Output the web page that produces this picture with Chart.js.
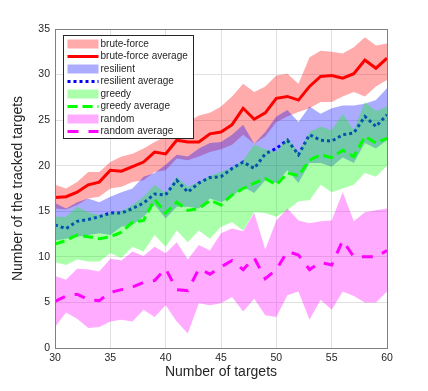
<!DOCTYPE html>
<html>
<head>
<meta charset="utf-8">
<title>Tracked targets</title>
<script src="https://cdn.jsdelivr.net/npm/chart.js@4.4.1/dist/chart.umd.min.js"></script>
<style>
  html, body { margin: 0; padding: 0; background: #fff; }
</style>
</head>
<body>
<canvas id="chart" width="428" height="391"></canvas>
<script>
// DATA
const targets = [30,31,32,33,34,35,36,37,38,39,40,41,42,43,44,45,46,47,48,49,50,51,52,53,54,55,56,57,58,59,60];

const bruteAvg   = [16.5,16.6,17.1,17.9,18.2,19.5,19.4,19.9,20.4,21.5,21.3,22.8,22.6,22.6,23.5,23.7,24.5,26.3,25.1,25.8,27.4,27.6,27.2,28.7,29.8,29.9,29.6,30.1,31.6,30.7,31.8];
const bruteUpper = [17.9,17.5,18.2,19.3,19.3,20.4,21.0,21.3,21.9,22.6,23.2,24.8,24.8,25.5,25.8,26.5,27.6,29.0,28.1,28.7,29.9,30.1,29.0,31.9,32.6,32.5,32.3,33.0,34.1,33.2,33.4];
const bruteLower = [15.3,15.2,15.7,16.4,16.6,17.5,17.7,18.2,18.4,19.3,19.5,20.8,20.6,21.0,21.5,21.8,22.3,23.4,22.4,23.2,24.8,25.4,25.9,26.3,27.0,27.0,27.6,28.1,27.6,28.7,29.4];

const resAvg   = [13.5,13.1,13.9,14.1,14.4,14.8,14.8,15.3,15.9,16.9,16.8,18.4,17.1,18.1,18.7,18.8,19.7,20.4,19.7,21.3,21.9,22.8,21.2,23.4,22.8,22.7,23.4,23.6,25.4,24.3,25.6];
const resUpper = [15.9,15.3,16.0,16.4,16.0,16.6,17.1,17.5,18.8,19.2,20.1,21.2,21.0,21.9,22.5,22.6,23.4,24.5,22.4,23.7,25.4,26.1,24.8,26.5,25.7,26.3,26.6,26.6,26.8,27.2,28.5];
const resLower = [11.8,12.0,12.2,12.4,12.6,12.4,13.3,13.5,14.4,15.7,14.2,15.5,15.5,15.3,16.4,16.0,16.6,17.7,17.0,18.4,18.1,19.5,18.1,20.3,20.3,19.9,20.9,20.3,22.5,21.9,22.8];

const greedyAvg   = [11.4,11.8,12.4,12.2,12.0,12.2,12.7,13.8,14.0,16.3,14.8,16.0,15.1,15.3,16.2,15.7,16.8,17.5,18.1,18.6,17.9,19.2,18.9,20.6,21.2,20.9,21.7,21.0,23.2,22.5,23.0];
const greedyUpper = [14.4,14.4,15.5,14.9,14.6,14.8,15.0,15.7,16.6,17.9,17.0,18.8,17.7,18.2,18.9,19.3,19.8,20.6,22.3,21.8,21.5,23.1,21.5,23.7,24.3,23.9,25.7,23.9,27.0,26.0,26.5];
const greedyLower = [9.4,9.1,9.7,9.5,9.5,10.4,9.9,11.1,10.6,12.4,11.1,12.9,11.6,12.9,12.0,13.3,13.8,12.9,14.9,14.8,14.4,15.1,16.1,16.2,17.9,17.1,17.5,17.9,19.2,18.8,20.0];

const randomAvg   = [5.1,5.7,5.9,5.3,5.2,6.1,6.4,6.7,7.2,7.4,8.7,6.4,6.3,8.7,8.1,8.9,9.6,8.6,9.9,7.6,8.6,10.6,10.2,8.6,9.4,9.1,11.8,10.0,10.0,10.0,10.7];
const randomUpper = [7.9,7.5,8.7,8.6,8.4,9.8,9.6,10.6,10.1,11.1,10.4,11.6,9.7,11.3,10.7,12.6,13.1,12.8,14.8,10.8,14.0,15.3,14.0,13.7,13.9,14.0,17.1,13.9,14.9,15.1,15.3];
const randomLower = [2.3,3.9,3.2,2.2,2.3,2.9,3.1,2.9,4.2,3.4,4.7,2.9,1.6,4.9,4.7,4.9,5.6,4.0,5.4,3.6,3.4,5.8,6.2,3.1,5.3,4.2,6.2,5.7,5.0,5.0,6.2];

const xTicksStep = 5;
const yTicksStep = 5;

// STYLE
const FONT = "'Liberation Sans', Arial, sans-serif";
const textColor = "#262626";

function pts(values) {
    return values.map((v, i) => ({ x: targets[i], y: v }));
}

// one group = band (upper + lower) + average line
const groups = [
    { name: "brute-force", upper: bruteUpper, lower: bruteLower, avg: bruteAvg,
      band: "rgba(255,0,0,0.33)", line: "#ff0000", dash: [] },
    { name: "resilient", upper: resUpper, lower: resLower, avg: resAvg,
      band: "rgba(0,0,255,0.33)", line: "#0000ff", dash: [3, 3] },
    { name: "greedy", upper: greedyUpper, lower: greedyLower, avg: greedyAvg,
      band: "rgba(0,255,0,0.33)", line: "#00ff00", dash: [10, 5] },
    { name: "random", upper: randomUpper, lower: randomLower, avg: randomAvg,
      band: "rgba(255,0,255,0.33)", line: "#ff00ff", dash: [11, 10] }
];

let datasets = [];
groups.forEach(g => {
    let upperIndex = datasets.length;
    datasets.push({
        label: g.name, legendKind: "band",
        data: pts(g.upper), borderWidth: 0, borderColor: "transparent",
        backgroundColor: g.band, fill: upperIndex + 1
    });
    datasets.push({
        label: "", data: pts(g.lower), borderWidth: 0,
        borderColor: "transparent", fill: false
    });
    datasets.push({
        label: g.name + " average", legendKind: "line",
        data: pts(g.avg), borderColor: g.line, borderWidth: 3,
        borderDash: g.dash, borderCapStyle: "butt", fill: false
    });
});
// later datasets drawn on top (like the original plot)
datasets.forEach((d, i) => { d.order = 100 - i; });

// BOX + LEGEND
const boxLegend = {
    id: "boxLegend",
    afterDraw(chart) {
        const ctx = chart.ctx;
        const a = chart.chartArea;
        ctx.save();
        ctx.strokeStyle = "#808080";
        ctx.lineWidth = 1;
        ctx.setLineDash([]);
        ctx.strokeRect(Math.round(a.left) + 0.5, Math.round(a.top) + 0.5,
                       Math.round(a.right - a.left), Math.round(a.bottom - a.top));

        // legend
        const items = chart.data.datasets.filter(d => d.legendKind);
        const left = 63.5, top = 35.5, w = 130, rowH = 12.5;
        const h = items.length * rowH + 3;
        ctx.fillStyle = "#fff";
        ctx.fillRect(left, top, w, h);
        ctx.strokeStyle = "#262626";
        ctx.lineWidth = 1;
        ctx.strokeRect(left, top, w, h);

        ctx.font = "10px " + FONT;
        ctx.textBaseline = "middle";
        items.forEach((d, i) => {
            const cy = top + 8.5 + i * rowH;
            if (d.legendKind === "band") {
                ctx.fillStyle = d.backgroundColor;
                ctx.fillRect(left + 4, cy - 4.5, 31, 9);
            } else {
                ctx.strokeStyle = d.borderColor;
                ctx.lineWidth = 3;
                ctx.lineCap = "butt";
                ctx.setLineDash(d.borderDash);
                ctx.beginPath();
                ctx.moveTo(left + 4, cy);
                ctx.lineTo(left + 35, cy);
                ctx.stroke();
                ctx.setLineDash([]);
            }
            ctx.fillStyle = textColor;
            ctx.fillText(d.label, left + 37, cy);
        });
        ctx.restore();
    }
};

// CHART
const chart = new Chart(document.getElementById("chart"), {
    type: "line",
    data: { datasets: datasets },
    options: {
        responsive: false,
        animation: false,
        layout: { padding: { left: 0, right: 41, top: 29, bottom: 0 } },
        elements: { point: { radius: 0 }, line: { tension: 0 } },
        plugins: {
            legend: { display: false },
            tooltip: { enabled: false },
            filler: { propagate: false, drawTime: "beforeDatasetDraw" }
        },
        scales: {
            x: {
                type: "linear", min: 30, max: 60,
                ticks: { stepSize: xTicksStep, padding: 4, color: textColor, font: { family: FONT, size: 10.5 } },
                grid: { color: "#e0e0e0", drawTicks: false },
                border: { color: "#808080" },
                title: { display: true, text: "Number of targets", color: textColor,
                         font: { family: FONT, size: 14 }, padding: { top: 0, bottom: 10 } },
                afterFit(s) { s.height = 43; }
            },
            y: {
                min: 0, max: 35,
                ticks: { stepSize: yTicksStep, padding: 5, color: textColor, font: { family: FONT, size: 10.5 } },
                grid: { color: "#e0e0e0", drawTicks: false },
                border: { color: "#808080" },
                title: { display: true, text: "Number of the tracked targets", color: textColor,
                         font: { family: FONT, size: 14 }, padding: { top: 10, bottom: 0 } },
                afterFit(s) { s.width = 55; }
            }
        }
    },
    plugins: [boxLegend]
});
</script>
</body>
</html>
